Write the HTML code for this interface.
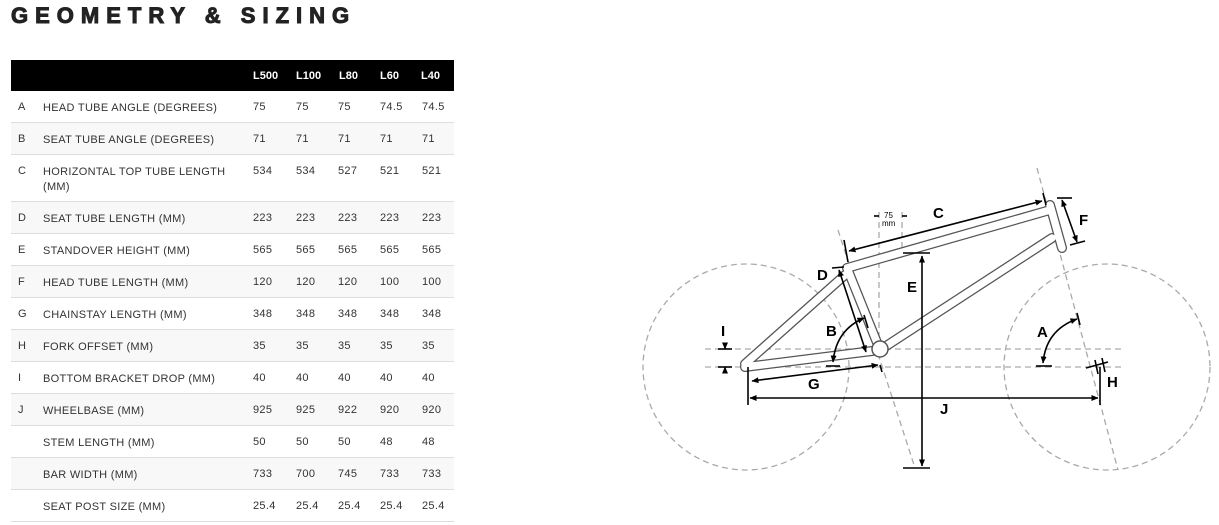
<!DOCTYPE html><html><head><style>
body{margin:0;width:1219px;height:525px;background:#fff;overflow:hidden;position:relative;font-family:"Liberation Sans",sans-serif;}
h1{position:absolute;left:11px;top:3px;margin:0;font-size:22px;font-weight:900;letter-spacing:7px;color:#222;-webkit-text-stroke:1px #222;}
.hdr{position:absolute;left:11px;top:60px;width:443px;height:31px;background:#000;}
.hdr span{position:absolute;top:10px;color:#fff;font-weight:bold;font-size:11px;}
.row{position:absolute;left:11px;width:443px;border-bottom:1px solid #ddd;font-size:11px;color:#333;letter-spacing:0.3px;}
.row span{position:absolute;}
</style></head><body>
<h1>GEOMETRY &amp; SIZING</h1>
<div class="hdr"><span style="left:242px">L500</span><span style="left:285px">L100</span><span style="left:328px">L80</span><span style="left:369px">L60</span><span style="left:410px">L40</span></div>
<div id="t"></div>
<script>
var rows=[["A","HEAD TUBE ANGLE (DEGREES)","75","75","75","74.5","74.5",32],
["B","SEAT TUBE ANGLE (DEGREES)","71","71","71","71","71",32],
["C","HORIZONTAL TOP TUBE LENGTH<br>(MM)","534","534","527","521","521",47],
["D","SEAT TUBE LENGTH (MM)","223","223","223","223","223",32],
["E","STANDOVER HEIGHT (MM)","565","565","565","565","565",32],
["F","HEAD TUBE LENGTH (MM)","120","120","120","100","100",32],
["G","CHAINSTAY LENGTH (MM)","348","348","348","348","348",32],
["H","FORK OFFSET (MM)","35","35","35","35","35",32],
["I","BOTTOM BRACKET DROP (MM)","40","40","40","40","40",32],
["J","WHEELBASE (MM)","925","925","922","920","920",32],
["","STEM LENGTH (MM)","50","50","50","48","48",32],
["","BAR WIDTH (MM)","733","700","745","733","733",32],
["","SEAT POST SIZE (MM)","25.4","25.4","25.4","25.4","25.4",32]];
var y=91,h="",xs=[242,285,327,369,411];
rows.forEach(function(r,i){h+='<div class="row" style="top:'+y+'px;height:'+(r[7]-1)+'px;background:'+(i%2?'#f8f8f8':'#fff')+'"><span style="left:7px;top:10px">'+r[0]+'</span><span style="left:32px;top:10px;line-height:15px">'+r[1]+'</span>';
for(var k=0;k<5;k++)h+='<span style="left:'+xs[k]+'px;top:10px">'+r[2+k]+'</span>';h+='</div>';y+=r[7];});
document.getElementById('t').innerHTML=h;
</script>
<svg width="1219" height="525" style="position:absolute;left:0;top:0" font-family="Liberation Sans" font-weight="bold" font-size="15">
<defs><marker id="a" markerUnits="userSpaceOnUse" markerWidth="7" markerHeight="6" refX="6.5" refY="3" orient="auto-start-reverse"><path d="M0,0L7,3L0,6z" fill="#000"/></marker></defs>
<g fill="none" stroke="#aaa" stroke-width="1.3" stroke-dasharray="6,4">
<circle cx="746" cy="367" r="103"/><circle cx="1107" cy="367" r="103"/>
<line x1="705" y1="349" x2="1122" y2="349"/><line x1="705" y1="367" x2="1122" y2="367"/>
<line x1="838" y1="230" x2="915" y2="468"/><line x1="1037" y1="168" x2="1118" y2="470"/>
<line x1="879" y1="212" x2="879" y2="352"/><line x1="902" y1="212" x2="902" y2="255"/>
</g>
<g stroke="#555" stroke-width="10" stroke-linecap="round" fill="none">
<path d="M847,268L1050,210M880,350L1052,238M847,268L880,350M845,275L745,364M880,350L745,367M1050,205L1062,248"/></g>
<g stroke="#fff" stroke-width="7.5" stroke-linecap="round" fill="none">
<path d="M847,268L1050,210M880,350L1052,238M847,268L880,350M845,275L745,364M880,350L745,367M1050,205L1062,248"/></g>
<circle cx="880" cy="349" r="8" fill="#fff" stroke="#555" stroke-width="1.5"/>
<g stroke="#000" stroke-width="1.6" fill="none">
<line x1="849" y1="251" x2="1042" y2="201" marker-start="url(#a)" marker-end="url(#a)"/>
<line x1="844" y1="240" x2="848" y2="262"/><line x1="1043" y1="193" x2="1046" y2="205"/>
<line x1="1062" y1="200" x2="1077" y2="242" marker-start="url(#a)" marker-end="url(#a)"/>
<line x1="1057" y1="198" x2="1072" y2="198"/><line x1="1070" y1="245" x2="1085" y2="241"/>
<line x1="839" y1="270" x2="866" y2="352" marker-start="url(#a)" marker-end="url(#a)"/>
<line x1="832" y1="268" x2="844" y2="267"/>
<line x1="922" y1="256" x2="922" y2="466" marker-start="url(#a)" marker-end="url(#a)"/>
<line x1="903" y1="253" x2="930" y2="253"/><line x1="903" y1="468" x2="930" y2="468"/>
<path d="M833,362 Q836,330 864,318" marker-start="url(#a)" marker-end="url(#a)"/>
<line x1="826" y1="366" x2="840" y2="366"/><line x1="864" y1="315" x2="868" y2="328"/>
<line x1="752" y1="381" x2="878" y2="365" marker-start="url(#a)" marker-end="url(#a)"/>
<line x1="748" y1="367" x2="748" y2="405"/><line x1="1100" y1="367" x2="1100" y2="405"/><line x1="880" y1="365" x2="882" y2="372"/>
<line x1="750" y1="398" x2="1098" y2="398" marker-start="url(#a)" marker-end="url(#a)"/>
<line x1="725" y1="343" x2="725" y2="349" marker-end="url(#a)"/><line x1="725" y1="373" x2="725" y2="367" marker-end="url(#a)"/>
<line x1="718" y1="349" x2="732" y2="349"/><line x1="718" y1="367" x2="732" y2="367"/>
<path d="M1043,363 Q1046,330 1077,319" marker-start="url(#a)" marker-end="url(#a)"/>
<line x1="1036" y1="366" x2="1052" y2="366"/><line x1="1077" y1="313" x2="1080" y2="325"/>
<line x1="1086" y1="368" x2="1108" y2="362"/><line x1="1095" y1="360" x2="1098" y2="374"/><line x1="1102" y1="358" x2="1105" y2="372"/>
<line x1="874" y1="216" x2="879" y2="216"/><line x1="902" y1="216" x2="907" y2="216"/>
</g>
<g fill="#000">
<text x="933" y="218">C</text><text x="1079" y="225">F</text><text x="817" y="280">D</text>
<text x="907" y="292">E</text><text x="826" y="336">B</text><text x="808" y="389">G</text>
<text x="940" y="414">J</text><text x="721" y="336">I</text><text x="1037" y="337">A</text><text x="1107" y="387">H</text>
<text x="884" y="218" font-size="8" font-weight="normal">75</text><text x="882" y="226" font-size="8" font-weight="normal">mm</text>
</g>
</svg>
</body></html>
